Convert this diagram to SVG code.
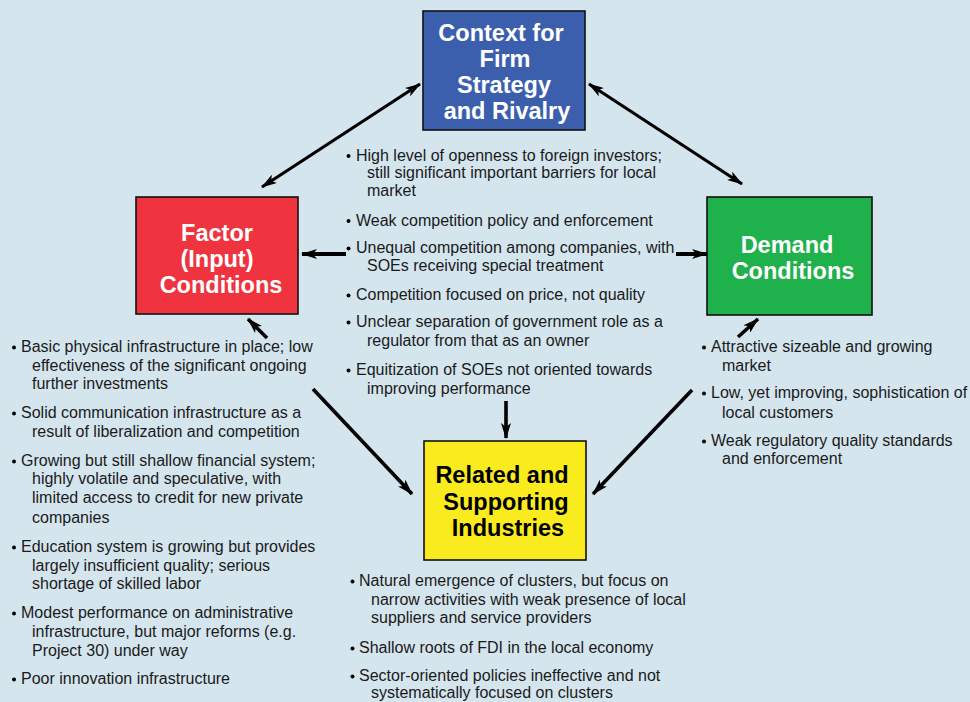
<svg xmlns="http://www.w3.org/2000/svg" width="970" height="702" viewBox="0 0 970 702">
<defs>
<style>
.bg{fill:#d4e5ee}
.box{stroke:#111;stroke-width:1.6}
.title{font-family:"Liberation Sans",Arial,sans-serif;font-weight:bold;font-size:23.5px;text-anchor:middle}
.w{fill:#ffffff}
.k{fill:#000000}
.t{font-family:"Liberation Sans",Arial,sans-serif;font-size:16px;fill:#1a1a1a}
.dot{fill:#000}
.conn{stroke:#000;fill:none}
</style>
<marker id="ah" markerUnits="userSpaceOnUse" viewBox="0 0 16 10" markerWidth="16" markerHeight="10" refX="15" refY="5" orient="auto-start-reverse">
<path d="M0,0 L16,5 L0,10 L4,5 z" fill="#000"/>
</marker>
</defs>
<rect class="bg" x="0" y="0" width="970" height="702"/>

<g id="connectors">
<line class="conn" stroke-width="3.2" x1="420" y1="84" x2="262" y2="187" marker-start="url(#ah)" marker-end="url(#ah)"/>
<line class="conn" stroke-width="3.2" x1="589" y1="84" x2="742" y2="184" marker-start="url(#ah)" marker-end="url(#ah)"/>
<line class="conn" stroke-width="4" x1="346" y1="254" x2="302" y2="254" marker-end="url(#ah)"/>
<line class="conn" stroke-width="4" x1="676" y1="254" x2="707" y2="254" marker-end="url(#ah)"/>
<line class="conn" stroke-width="3.6" x1="267" y1="338" x2="248" y2="319" marker-end="url(#ah)"/>
<line class="conn" stroke-width="3.6" x1="738" y1="337" x2="758" y2="319" marker-end="url(#ah)"/>
<line class="conn" stroke-width="3.6" x1="506" y1="401" x2="506" y2="438" marker-end="url(#ah)"/>
<line class="conn" stroke-width="3.6" x1="313" y1="389" x2="412" y2="494" marker-end="url(#ah)"/>
<line class="conn" stroke-width="3.6" x1="692" y1="390" x2="593" y2="494" marker-end="url(#ah)"/>
</g>

<g id="node-context">
<rect class="box" x="423" y="11" width="162" height="119" fill="#3c5fad"/>
<text class="title w" x="501" y="41">Context for</text>
<text class="title w" x="505" y="67">Firm</text>
<text class="title w" x="504" y="93">Strategy</text>
<text class="title w" x="507" y="119">and Rivalry</text>
</g>

<g id="node-factor">
<rect class="box" x="136" y="197" width="162" height="117" fill="#ef343f"/>
<text class="title w" x="217" y="241">Factor</text>
<text class="title w" x="217" y="267">(Input)</text>
<text class="title w" x="221" y="293">Conditions</text>
</g>

<g id="node-demand">
<rect class="box" x="707" y="197" width="165" height="118" fill="#1eb14c"/>
<text class="title w" x="787" y="253">Demand</text>
<text class="title w" x="793" y="279">Conditions</text>
</g>

<g id="node-related">
<rect class="box" x="424" y="441" width="162" height="119" fill="#f9eb1e"/>
<text class="title k" x="502" y="483">Related and</text>
<text class="title k" x="506" y="510">Supporting</text>
<text class="title k" x="508" y="536">Industries</text>
</g>

<g id="text-context">
<circle class="dot" cx="348.5" cy="156" r="2"/>
<text class="t" x="356" y="160.5">High level of openness to foreign investors;</text>
<text class="t" x="367" y="178">still significant important barriers for local</text>
<text class="t" x="367" y="196">market</text>
<circle class="dot" cx="348.5" cy="221" r="2"/>
<text class="t" x="356" y="225.5">Weak competition policy and enforcement</text>
<circle class="dot" cx="348.5" cy="248.5" r="2"/>
<text class="t" x="356" y="253">Unequal competition among companies, with</text>
<text class="t" x="367" y="271">SOEs receiving special treatment</text>
<circle class="dot" cx="348.5" cy="295.5" r="2"/>
<text class="t" x="356" y="300">Competition focused on price, not quality</text>
<circle class="dot" cx="348.5" cy="322.5" r="2"/>
<text class="t" x="356" y="327">Unclear separation of government role as a</text>
<text class="t" x="367" y="346">regulator from that as an owner</text>
<circle class="dot" cx="348.5" cy="370.5" r="2"/>
<text class="t" x="356" y="375">Equitization of SOEs not oriented towards</text>
<text class="t" x="367" y="394">improving performance</text>
</g>

<g id="text-factor">
<circle class="dot" cx="14" cy="347.5" r="2"/>
<text class="t" x="21" y="352">Basic physical infrastructure in place; low</text>
<text class="t" x="32" y="371">effectiveness of the significant ongoing</text>
<text class="t" x="32" y="389">further investments</text>
<circle class="dot" cx="14" cy="413.5" r="2"/>
<text class="t" x="21" y="418">Solid communication infrastructure as a</text>
<text class="t" x="32" y="437">result of liberalization and competition</text>
<circle class="dot" cx="14" cy="461.5" r="2"/>
<text class="t" x="21" y="466">Growing but still shallow financial system;</text>
<text class="t" x="32" y="484">highly volatile and speculative, with</text>
<text class="t" x="32" y="503">limited access to credit for new private</text>
<text class="t" x="32" y="523">companies</text>
<circle class="dot" cx="14" cy="547.5" r="2"/>
<text class="t" x="21" y="552">Education system is growing but provides</text>
<text class="t" x="32" y="571">largely insufficient quality; serious</text>
<text class="t" x="32" y="589">shortage of skilled labor</text>
<circle class="dot" cx="14" cy="613.5" r="2"/>
<text class="t" x="21" y="618">Modest performance on administrative</text>
<text class="t" x="32" y="637">infrastructure, but major reforms (e.g.</text>
<text class="t" x="32" y="656">Project 30) under way</text>
<circle class="dot" cx="14" cy="679.5" r="2"/>
<text class="t" x="21" y="684">Poor innovation infrastructure</text>
</g>

<g id="text-demand">
<circle class="dot" cx="704" cy="347.5" r="2"/>
<text class="t" x="711" y="352">Attractive sizeable and growing</text>
<text class="t" x="722" y="371">market</text>
<circle class="dot" cx="704" cy="393.5" r="2"/>
<text class="t" x="711" y="398">Low, yet improving, sophistication of</text>
<text class="t" x="722" y="418">local customers</text>
<circle class="dot" cx="704" cy="441.5" r="2"/>
<text class="t" x="711" y="446">Weak regulatory quality standards</text>
<text class="t" x="722" y="464">and enforcement</text>
</g>

<g id="text-related">
<circle class="dot" cx="352.5" cy="581.5" r="2"/>
<text class="t" x="359" y="586">Natural emergence of clusters, but focus on</text>
<text class="t" x="371" y="605">narrow activities with weak presence of local</text>
<text class="t" x="371" y="623">suppliers and service providers</text>
<circle class="dot" cx="352.5" cy="648.5" r="2"/>
<text class="t" x="359" y="653">Shallow roots of FDI in the local economy</text>
<circle class="dot" cx="352.5" cy="676.5" r="2"/>
<text class="t" x="359" y="681">Sector-oriented policies ineffective and not</text>
<text class="t" x="371" y="698">systematically focused on clusters</text>
</g>
</svg>
